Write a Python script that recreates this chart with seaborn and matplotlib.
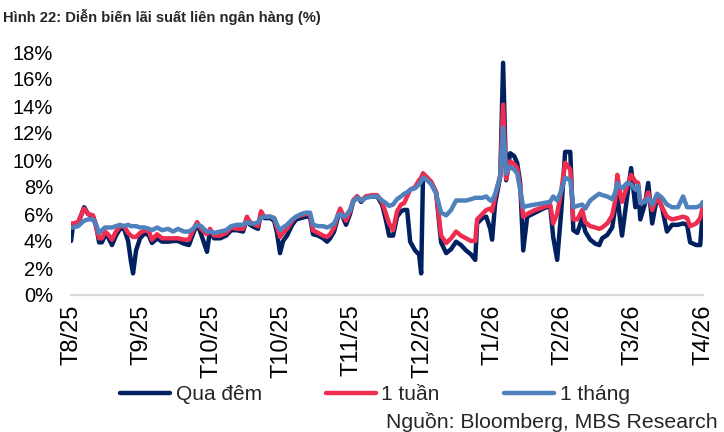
import pandas as pd
import matplotlib.pyplot as plt
import seaborn as sns

# Trading days counted from the start of the window (T8/25 = 0)
days = [
    0.0, 0.9, 3.0, 5.6, 7.3, 9.4, 10.7, 12.0, 13.2, 14.5,
    15.8, 17.5, 19.2, 20.9, 22.7, 24.4, 25.6, 26.5, 27.8, 29.5,
    31.6, 33.3, 34.6, 36.8, 38.9, 41.5, 43.6, 45.7, 48.3, 50.4,
    52.1, 53.9, 55.6, 57.3, 58.1, 59.4, 61.1, 63.7, 66.3, 68.4,
    70.9, 73.5, 75.2, 76.5, 78.6, 79.9, 81.2, 82.5, 85.1, 86.8,
    88.0, 89.3, 90.6, 92.3, 94.5, 96.2, 98.3, 100.4, 102.1, 103.4,
    105.6, 107.7, 109.4, 110.7, 112.4, 114.1, 115.0, 116.3, 117.5, 119.2,
    120.5, 122.2, 123.9, 126.1, 128.6, 130.8, 132.9, 134.6, 135.9, 137.6,
    139.3, 141.0, 142.3, 143.6, 144.9, 147.0, 148.7, 149.6, 150.4, 152.2,
    153.9, 156.0, 158.1, 160.3, 162.4, 164.5, 166.6, 168.8, 170.9, 172.7,
    173.5, 175.7, 177.4, 179.1, 179.9, 181.2, 183.4, 184.6, 185.9, 187.6,
    189.3, 190.6, 191.9, 193.2, 194.9, 198.3, 201.7, 204.7, 206.0, 207.7,
    209.4, 211.1, 213.3, 214.6, 216.3, 218.4, 219.7, 221.8, 224.0, 225.7,
    226.9, 229.1, 231.2, 232.5, 233.4, 234.6, 235.4, 237.6, 239.3, 241.1,
    242.3, 243.2, 245.3, 246.6, 248.3, 250.4, 252.5, 254.6, 256.8, 259.3,
    261.5, 263.2, 264.5, 267.1, 268.8, 270.0,
]

qua_dem = [
    4.0, 5.2, 5.3, 6.5, 6.0, 5.8, 5.2, 3.9, 3.9, 4.4,
    4.3, 3.7, 4.4, 4.9, 4.9, 4.0, 2.5, 1.6, 3.3, 4.2,
    4.6, 4.4, 3.85, 4.2, 3.95, 3.95, 4.0, 4.0, 3.8, 3.7,
    4.5, 5.3, 4.5, 3.6, 3.2, 4.8, 4.2, 4.2, 4.4, 4.8,
    4.8, 4.7, 5.7, 5.2, 5.0, 4.9, 6.1, 5.7, 5.7, 5.5,
    4.6, 3.1, 4.0, 4.4, 5.2, 5.6, 5.7, 5.8, 5.8, 4.5,
    4.4, 4.2, 3.95, 4.2, 4.7, 5.8, 6.3, 5.7, 5.2, 6.0,
    6.9, 7.3, 6.9, 7.3, 7.3, 7.3, 6.7, 5.5, 4.4, 4.4,
    5.8, 6.2, 6.3, 6.3, 3.95, 3.3, 3.0, 1.6, 9.0, 8.6,
    8.3, 7.6, 3.9, 3.1, 3.4, 3.95, 3.7, 3.3, 3.0, 2.6,
    5.3, 5.7, 5.8, 4.9, 4.1, 6.8, 8.8, 17.2, 8.5, 10.5,
    10.3, 9.8, 8.3, 3.3, 5.8, 6.1, 6.4, 6.6, 4.3, 2.6,
    6.1, 10.6, 10.6, 4.8, 4.6, 5.7, 4.7, 4.1, 3.8, 3.7,
    4.2, 4.45, 5.0, 6.5, 7.5, 5.5, 4.4, 7.3, 9.4, 6.5,
    8.0, 5.6, 6.8, 8.3, 5.3, 7.3, 6.5, 4.7, 5.2, 5.2,
    5.3, 5.2, 3.9, 3.7, 3.7, 6.5,
]

mot_tuan = [
    5.3, 5.3, 5.4, 6.4, 6.0, 5.9, 5.0, 4.2, 4.2, 4.7,
    4.5, 4.1, 4.7, 5.1, 5.1, 4.6, 4.4, 4.3, 4.3, 4.6,
    4.8, 4.7, 4.1, 4.5, 4.2, 4.2, 4.2, 4.2, 4.1, 4.1,
    4.8, 5.4, 4.9, 4.6, 4.5, 4.9, 4.4, 4.4, 4.6, 5.0,
    4.9, 4.9, 5.8, 5.4, 5.2, 5.1, 6.2, 5.8, 5.8, 5.7,
    5.0, 4.3, 4.6, 4.9, 5.5, 5.8, 5.9, 6.0, 6.0, 4.8,
    4.6, 4.4, 4.3, 4.5, 5.0, 6.0, 6.4, 5.9, 5.5, 6.2,
    7.0, 7.3, 7.0, 7.3, 7.4, 7.4, 6.9, 6.0, 5.3, 4.8,
    6.2, 6.7, 6.8, 7.3, 7.8, 8.0, 8.5, 8.7, 9.0, 8.7,
    8.4, 7.6, 4.4, 3.85, 4.2, 4.7, 4.4, 4.2, 4.0, 4.0,
    5.6, 6.0, 6.3, 6.4, 6.2, 7.3, 8.9, 14.1, 8.6, 9.9,
    9.7, 9.4, 8.0, 5.8, 6.0, 6.3, 6.5, 6.7, 5.3, 6.0,
    7.7, 9.8, 9.3, 5.6, 5.6, 6.3, 5.4, 5.1, 5.0, 4.9,
    5.0, 5.3, 5.9, 7.0, 8.9, 7.5, 6.9, 8.1, 8.9, 8.4,
    8.3, 6.8, 7.0, 7.6, 6.3, 7.3, 6.5, 5.8, 5.6, 5.7,
    5.8, 5.7, 5.1, 5.3, 5.7, 6.6,
]

mot_thang = [
    5.0, 5.0, 5.1, 5.5, 5.6, 5.6, 5.2, 4.6, 4.8, 5.0,
    5.0, 5.0, 5.1, 5.2, 5.1, 5.2, 5.1, 5.1, 5.1, 5.0,
    5.0, 4.9, 4.8, 5.0, 4.8, 4.9, 4.7, 4.9, 4.7, 4.7,
    4.9, 5.2, 5.1, 4.8, 4.7, 4.7, 4.6, 4.7, 4.8, 5.1,
    5.2, 5.2, 5.4, 5.3, 5.3, 5.4, 5.7, 5.8, 5.8, 5.7,
    5.2, 4.8, 5.0, 5.2, 5.6, 5.8, 6.0, 6.1, 6.1, 5.2,
    5.1, 5.1, 5.0, 5.1, 5.3, 5.9, 6.0, 5.8, 5.9, 6.3,
    6.9, 7.2, 7.0, 7.2, 7.3, 7.3, 7.0, 6.8, 6.6, 6.7,
    7.1, 7.3, 7.5, 7.6, 7.8, 7.9, 8.2, 8.4, 8.7, 8.5,
    8.2, 7.5, 6.1, 5.9, 6.3, 7.0, 7.0, 7.0, 7.1, 7.2,
    7.2, 7.2, 7.3, 7.0, 7.0, 7.5, 8.8, 12.4, 9.0, 9.5,
    9.3, 9.0, 7.8, 6.5, 6.6, 6.7, 6.8, 6.9, 7.3, 7.0,
    7.7, 8.7, 8.5, 6.5, 6.6, 6.7, 6.4, 7.0, 7.3, 7.5,
    7.4, 7.3, 7.1, 7.6, 8.3, 8.0, 7.9, 8.3, 8.2, 7.8,
    8.1, 6.8, 6.9, 7.2, 6.7, 7.5, 7.2, 6.7, 6.5, 6.5,
    7.3, 6.5, 6.5, 6.5, 6.6, 6.9,
]

series_names = ["Qua đêm", "1 tuần", "1 tháng"]
series_colors = ["#002060", "#EE2D50", "#4F81BD"]

tick_days = [0, 30, 60, 90, 120, 150, 180, 210, 240, 270]
tick_labels = ["T8/25", "T9/25", "T10/25", "T10/25", "T11/25",
               "T12/25", "T1/26", "T2/26", "T3/26", "T4/26"]
y_ticks = [0, 2, 4, 6, 8, 10, 12, 14, 16, 18]


def build_frame():
    wide = pd.DataFrame({"day": days,
                         series_names[0]: qua_dem,
                         series_names[1]: mot_tuan,
                         series_names[2]: mot_thang})
    return wide.melt(id_vars="day", var_name="series", value_name="rate")


def main():
    sns.set_style("white")
    plt.rcParams["font.family"] = ["Liberation Sans", "DejaVu Sans"]

    data = build_frame()

    fig = plt.figure(figsize=(7.24, 4.32), dpi=100)
    ax = fig.add_axes([71 / 724, 1 - 295 / 432, 632 / 724, 243 / 432])

    sns.lineplot(data=data, x="day", y="rate", hue="series",
                 hue_order=series_names, palette=series_colors,
                 linewidth=3.2, sort=False, ax=ax)

    ax.set_xlim(0, 270)
    ax.set_ylim(0, 18)
    ax.set_yticks(y_ticks)
    ax.set_yticklabels([f"{v}%" for v in y_ticks], fontsize=14.5)
    ax.set_xticks(tick_days)
    ax.set_xticklabels(tick_labels, rotation=90, fontsize=17)
    ax.set_xlabel("")
    ax.set_ylabel("")

    for side in ["top", "right", "left"]:
        ax.spines[side].set_visible(False)
    ax.spines["bottom"].set_color("#D9D9D9")
    ax.spines["bottom"].set_linewidth(1.6)
    ax.tick_params(axis="x", length=5, width=1.6, color="#D9D9D9",
                   direction="out", pad=2, labelcolor="black")
    ax.tick_params(axis="y", length=0, pad=13, labelcolor="black")

    handles, labels = ax.get_legend_handles_labels()
    ax.get_legend().remove()
    for h in handles:
        h.set_linewidth(3.2)
    fig.legend(handles, labels, loc="center", ncol=3,
               bbox_to_anchor=(375 / 724, 1 - 395 / 432),
               frameon=False, fontsize=15, handlelength=2.4,
               handletextpad=0.25, columnspacing=3.1)

    fig.text(3 / 724, 1 - 17 / 432,
             "Hình 22: Diễn biến lãi suất liên ngân hàng (%)",
             fontsize=10.6, fontweight="bold", va="center", ha="left")
    fig.text(718 / 724, 1 - 428 / 432, "Nguồn: Bloomberg, MBS Research",
             fontsize=15.3, ha="right", va="baseline")

    fig.savefig("out.png", dpi=100)
    plt.close(fig)


if __name__ == "__main__":
    main()
